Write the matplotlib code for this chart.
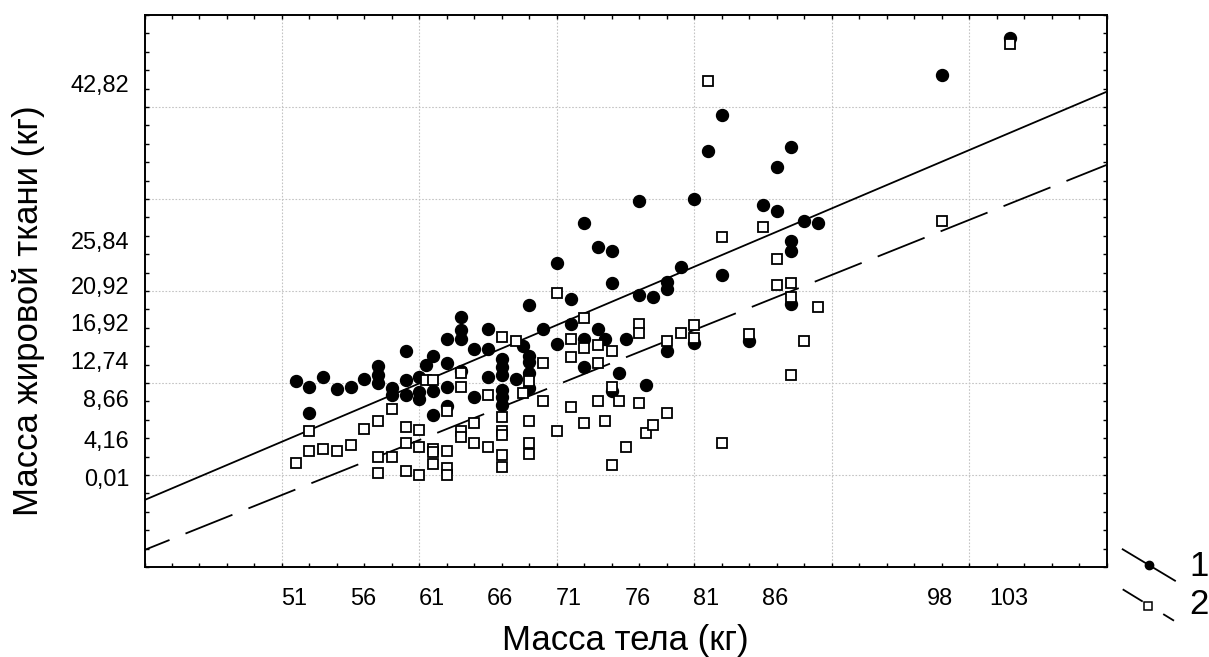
import matplotlib.pyplot as plt
from matplotlib.lines import Line2D
import numpy as np

plt.rcParams['font.family'] = ['Liberation Sans', 'DejaVu Sans']
plt.rcParams['lines.scale_dashes'] = False

# group 1 (filled circles): body mass, fat mass
circle_x = [51, 52, 52, 53, 54, 55, 56, 57, 57, 57, 58, 58, 59, 59, 59,
            60, 60, 60, 60.5, 61, 61, 61, 62, 62, 62, 62, 63, 63, 63, 63,
            64, 64, 65, 65, 65, 66, 66, 66, 66, 66, 66, 67, 67.5,
            68, 68, 68, 68, 68, 69, 70, 70, 71, 71, 72, 72, 72, 73, 73, 73.5,
            74, 74, 74, 74.5, 75, 76, 76, 76.5, 77, 78, 78, 78, 79, 80, 80,
            81, 82, 82, 84, 85, 86, 86, 87, 87, 87, 87, 88, 89, 98, 103]
circle_y = [10.25, 9.6, 6.77, 10.69, 9.4, 9.55, 10.43, 11.8, 10.9, 10.03, 9.42, 8.65, 13.5, 10.3, 8.7,
            10.69, 9.05, 8.3, 11.96, 12.9, 9.1, 6.52, 14.8, 12.21, 9.57, 7.45, 17.21, 15.76, 14.75, 11.3,
            13.7, 8.51, 15.87, 13.7, 10.6, 12.6, 11.7, 10.87, 9.24, 8.48, 7.66, 10.43, 14.02,
            18.5, 12.93, 12.32, 11.05, 9.42, 15.87, 23.05, 14.2, 19.15, 16.38, 27.4, 14.78, 11.7, 24.8, 15.87, 14.78,
            24.4, 20.87, 9.1, 11.14, 14.78, 29.8, 19.57, 9.8, 19.38, 21.0, 20.2, 13.5, 22.6, 30.0, 14.4,
            35.25, 39.1, 21.75, 14.56, 29.4, 33.5, 28.7, 35.7, 25.47, 24.38, 18.55, 27.64, 27.4, 43.5, 47.47]

# group 2 (open squares)
square_x = [51, 52, 52, 53, 54, 55, 56, 57, 57, 57, 58, 58, 59, 59, 59,
            60, 60, 60, 60.5, 61, 61, 61, 61, 62, 62, 62, 62, 63, 63, 63, 63,
            64, 64, 65, 65, 66, 66, 66, 66, 66, 66, 67, 67.5, 68, 68, 68, 68,
            69, 69, 70, 70, 71, 71, 71, 72, 72, 72, 73, 73, 73, 73.5,
            74, 74, 74, 74.5, 75, 76, 76, 76, 76.5, 77, 78, 78, 79, 80, 80,
            81, 82, 82, 84, 85, 86, 86, 87, 87, 87, 88, 89, 98, 103]
square_y = [1.32, 4.82, 2.62, 2.83, 2.61, 3.28, 5.05, 5.9, 1.99, 0.25, 7.2, 1.99, 5.25, 3.51, 0.47,
            4.85, 3.08, 0.05, 10.28, 10.28, 2.83, 2.53, 1.2, 6.96, 2.62, 0.78, 0.05, 11.12, 9.55, 4.82, 4.16,
            5.69, 3.45, 8.7, 3.08, 14.97, 6.34, 4.82, 4.35, 2.17, 0.9, 14.6, 8.88, 10.25, 5.87, 3.45, 2.28,
            12.14, 8.07, 19.82, 4.82, 14.78, 12.86, 7.42, 17.03, 13.77, 5.69, 14.13, 12.21, 8.07, 5.9,
            13.51, 9.6, 1.09, 8.07, 3.08, 16.45, 15.45, 7.8, 4.6, 5.43, 14.6, 6.77, 15.47, 16.3, 14.86,
            42.86, 25.9, 3.51, 15.33, 27.0, 23.48, 20.65, 20.84, 19.38, 10.9, 14.56, 18.3, 27.6, 46.8]

# regression lines: (intercept, slope)
fit1 = (-28.08, 0.634)
fit2 = (-32.07, 0.598)

x_tick_labels = ['51', '56', '61', '66', '71', '76', '81', '86', '98', '103']
y_tick_labels = ['0,01', '4,16', '8,66', '12,74', '16,92', '20,92', '25,84', '42,82']
legend_labels = ['1', '2']

W, H = 1209, 657
fig = plt.figure(figsize=(W / 100, H / 100), dpi=100)
ax = fig.add_axes([144.5 / W, 1 - 567 / H, (1106.7 - 144.5) / W, (567 - 15) / H])

ax.set_xlim(40, 110)
ax.set_ylim(-10, 50)
ax.set_xticks(np.arange(50, 101, 10))
ax.set_xticks(np.arange(40, 111, 2), minor=True)
ax.set_yticks(np.arange(0, 41, 10))
ax.set_yticks(np.arange(-10, 51, 2), minor=True)
ax.tick_params(which='both', direction='in', top=True, right=True,
               labelbottom=False, labelleft=False, length=3, width=1, color='black')
ax.grid(True, which='major', color='#c4c4c4', linestyle=(0, (1.2, 1.2)), linewidth=0.8)
ax.set_axisbelow(True)
for s in ax.spines.values():
    s.set_linewidth(1.4)

xs = np.array([40, 110])
ax.plot(xs, fit1[0] + fit1[1] * xs, color='black', lw=1.3, zorder=2)
ax.plot(xs, fit2[0] + fit2[1] * xs, color='black', lw=1.3,
        linestyle=(17, (36.4, 12.4)), zorder=2)

ax.plot(circle_x, circle_y, 'o', color='black', ms=8.6, zorder=3, clip_on=False)
ax.plot(square_x, square_y, 's', mfc='white', mec='black', ms=6.6, mew=1.3,
        zorder=4, clip_on=False)

# custom tick labels (not at grid positions)
for lab in x_tick_labels:
    ax.annotate(lab, xy=(float(lab), 0), xycoords=('data', 'axes fraction'),
                xytext=(-1.2, -14.2), textcoords='offset points',
                ha='center', va='top', fontsize=16.9)
for lab in y_tick_labels:
    ax.annotate(lab, xy=(0, float(lab.replace(',', '.'))), xycoords=('axes fraction', 'data'),
                xytext=(-11, -8.2), textcoords='offset points',
                ha='right', va='baseline', fontsize=16.9)

fig.text(625.6 / W, 1 - 650 / H, 'Масса тела (кг)', ha='center', va='baseline', fontsize=25)
fig.text(29 / W, 1 - 311 / H, 'Масса жировой ткани (кг)', rotation=90,
         ha='center', va='center', fontsize=25)

# legend drawn as slanted Statistica-style keys
def fxy(px, py):
    return px / W, 1 - py / H

x0, y0 = fxy(1122.7, 549.3)
x1, y1 = fxy(1175, 580.7)
fig.add_artist(Line2D([x0, x1], [y0, y1], color='black', lw=1.3, transform=fig.transFigure))
mx, my = fxy(1149.3, 565)
fig.add_artist(Line2D([mx], [my], marker='o', color='black', ms=6, transform=fig.transFigure))
x0, y0 = fxy(1122.7, 589.3)
x1, y1 = fxy(1174, 620.7)
fig.add_artist(Line2D([x0, x1], [y0, y1], color='black', lw=1.3,
                      linestyle=(0, (16.9, 17.3)), transform=fig.transFigure))
mx, my = fxy(1148.3, 606)
fig.add_artist(Line2D([mx], [my], marker='s', mfc='white', mec='black', ms=5.2, mew=1.1,
                      transform=fig.transFigure))
for lab, py in zip(legend_labels, [566.7, 604]):
    tx, ty = fxy(1189, py)
    fig.text(tx, ty, lab, ha='left', va='center', fontsize=25)

fig.savefig('out.png', dpi=100)
